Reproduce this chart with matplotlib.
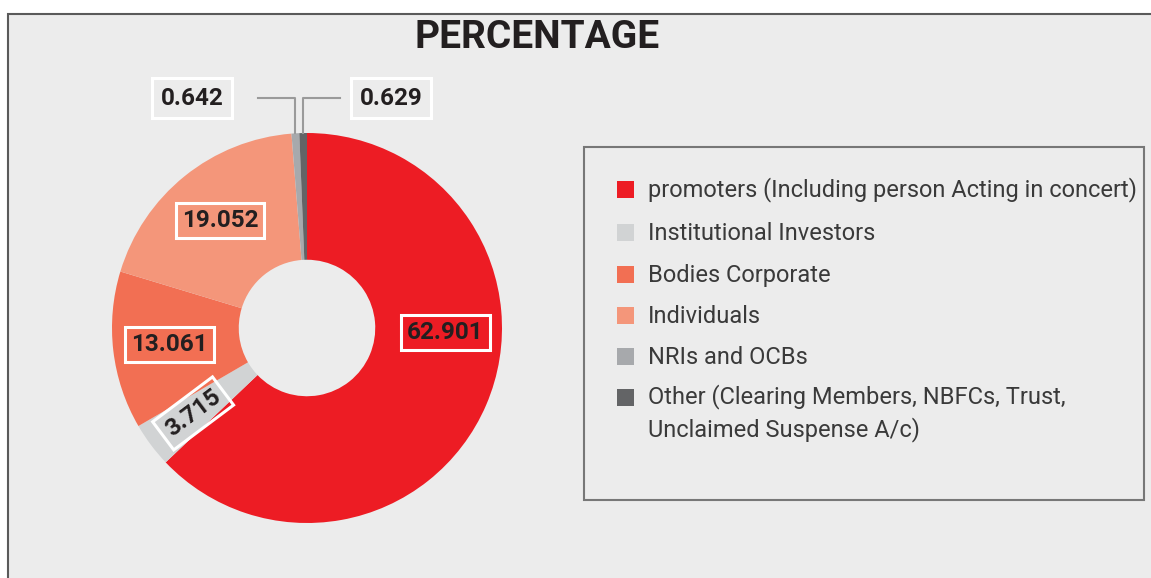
import numpy as np
import matplotlib
matplotlib.use("Agg")
import matplotlib.pyplot as plt
from matplotlib.patches import Rectangle

categories = ["promoters (Including person Acting in concert)",
              "Institutional Investors",
              "Bodies Corporate",
              "Individuals",
              "NRIs and OCBs",
              "Other (Clearing Members, NBFCs, Trust,\nUnclaimed Suspense A/c)"]
values = [62.901, 3.715, 13.061, 19.052, 0.642, 0.629]
value_labels = ["62.901", "3.715", "13.061", "19.052", "0.642", "0.629"]
colors = ["#ed1c24", "#d1d3d4", "#f26f53", "#f4967a", "#a7a9ac", "#636466"]

plt.rcParams['font.family'] = ['Roboto', 'DejaVu Sans']

fig = plt.figure(figsize=(11.51, 5.78), dpi=100)
fig.patch.set_facecolor("white")
W, H = 1151, 578

# grey panel
fig.patches.append(Rectangle((8 / W, -0.05), 1.1, 1.05 - 14 / H, transform=fig.transFigure,
                             facecolor="#ececec", edgecolor="#5a5a5a", lw=1.5, zorder=-5))

fig.text(537 / W, 1 - 37 / H, "PERCENTAGE", ha="center", va="center",
         fontsize=28, fontweight="bold", color="#231f20")

# pie: centre (307, 328) px, radius 195 px
cx, cy, R = 307, 328, 195
ax = fig.add_axes([(cx - R) / W, 1 - (cy + R) / H, 2 * R / W, 2 * R / H])
ax.set_zorder(5)
ax.set_facecolor("none")
wedges, _ = ax.pie(values, colors=colors, startangle=90, counterclock=False,
                   radius=1, wedgeprops=dict(width=0.65, edgecolor="none"))
ax.set_xlim(-1, 1)
ax.set_ylim(-1, 1)
ax.set_aspect("equal")
ax.axis("off")

# inside labels
for i in range(4):
    w = wedges[i]
    mid = (w.theta1 + w.theta2) / 2
    r = 0.71
    rot = 0
    if i == 0:
        mid = -2
    if i == 1:
        rot = mid + 180
        r = 0.73
    x = r * np.cos(np.radians(mid))
    y = r * np.sin(np.radians(mid))
    ax.text(x, y, value_labels[i], ha="center", va="center", rotation=rot,
            rotation_mode="anchor", fontsize=17.5, fontweight="bold", color="#231f20",
            bbox=dict(boxstyle="square,pad=0.25", facecolor="none",
                      edgecolor="white", lw=2.2))

# outside labels with leader lines
label_y = 1.179
label_x = [-0.59, 0.431]
elbow_end = [-0.25, 0.17]
for k, i in enumerate([4, 5]):
    w = wedges[i]
    mid = np.radians((w.theta1 + w.theta2) / 2)
    px, py = np.cos(mid), np.sin(mid)
    ax.plot([elbow_end[k], px, px], [label_y, label_y, py], color="#9a9a9a",
            lw=1.5, clip_on=False)
    ax.text(label_x[k], label_y, value_labels[i], ha="center", va="center",
            fontsize=17.5, fontweight="bold", color="#231f20",
            bbox=dict(boxstyle="square,pad=0.35", facecolor="#ececec",
                      edgecolor="white", lw=2.2))

# legend box
fig.patches.append(Rectangle((584 / W, 1 - 500 / H), 560 / W, 353 / H,
                             transform=fig.transFigure, facecolor="none",
                             edgecolor="#777777", lw=1.5))
row_y = [190, 233, 275, 316, 357, 398]
for i, lab in enumerate(categories):
    y = row_y[i]
    fig.patches.append(Rectangle((617 / W, 1 - (y + 8) / H), 17 / W, 17 / H,
                                 transform=fig.transFigure, facecolor=colors[i],
                                 edgecolor="none"))
    if "\n" in lab:
        fig.text(648 / W, 1 - (y - 14) / H, lab, ha="left", va="top",
                 fontsize=17, color="#3a3a3a", linespacing=1.4)
    else:
        fig.text(648 / W, 1 - y / H, lab, ha="left", va="center",
                 fontsize=17, color="#3a3a3a")

fig.savefig("out.png", dpi=100)
